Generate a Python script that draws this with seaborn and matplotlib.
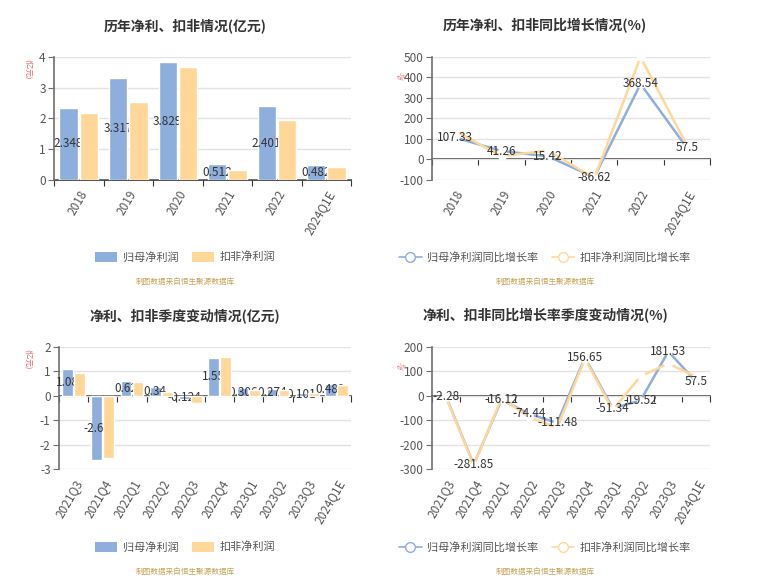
import pandas as pd
import numpy as np
import matplotlib.pyplot as plt
import seaborn as sns
from matplotlib.lines import Line2D
from matplotlib.patches import Patch

# Data
# ==============================================================================
years      = ['2018', '2019', '2020', '2021', '2022', '2024Q1E']
np_annual  = [2.348, 3.317, 3.829, 0.512, 2.401, 0.482]
kf_annual  = [2.17, 2.54, 3.69, 0.33, 1.95, 0.43]
np_yoy     = [107.33, 41.26, 15.42, -86.62, 368.54, 57.5]
kf_yoy     = [139, 16, 44, -92, 500, 69]

quarters   = ['2021Q3', '2021Q4', '2022Q1', '2022Q2', '2022Q3',
              '2022Q4', '2023Q1', '2023Q2', '2023Q3', '2024Q1E']
np_q       = [1.08, -2.65, 0.62, 0.34, -0.124, 1.55, 0.306, 0.274, 0.101, 0.482]
kf_q       = [0.94, -2.56, 0.57, 0.15, -0.29, 1.59, 0.23, 0.22, 0.12, 0.43]
np_q_yoy   = [-2.28, -281.85, -16.12, -74.44, -111.48, 156.65, -51.34, -19.52, 181.53, 57.5]
kf_q_yoy   = [-5, -285, -10, -88, -131, 152, -58, 80, 132, 78]

bar_names  = ['归母净利润', '扣非净利润']
line_names = ['归母净利润同比增长率', '扣非净利润同比增长率']

BLUE   = '#8eaedc'
ORANGE = '#ffd899'
GRID   = '#e3e3e3'
AXIS   = '#6e6e6e'
TXT    = '#333333'
SRC    = '#c9a25a'

sns.set_style('white')
plt.rcParams['font.family'] = ['Noto Sans CJK SC', 'DejaVu Sans']
plt.rcParams['axes.unicode_minus'] = False

fig = plt.figure(figsize=(7.63, 5.88), dpi=100)


def style_axes(ax, cats, ylim, step, zero_frac):
    n = len(cats)
    ax.set_xlim(-0.5, n - 0.5)
    ax.set_ylim(*ylim)
    ax.set_yticks(np.arange(ylim[0], ylim[1] + step / 2, step))
    ax.yaxis.grid(True, color=GRID, linewidth=1)
    ax.set_axisbelow(True)
    for s in ['top', 'right', 'bottom']:
        ax.spines[s].set_visible(False)
    ax.spines['left'].set_color(AXIS)
    ax.spines['left'].set_linewidth(1.2)
    ax.tick_params(axis='y', length=4, color=AXIS, labelcolor='#555555',
                   labelsize=8.5, pad=2, left=True)
    ax.set_xticks(range(n))
    ax.set_xticklabels(cats, rotation=60, ha='right', rotation_mode='anchor')
    ax.tick_params(axis='x', length=0, labelcolor='#555555', labelsize=8.5, pad=6)
    ax.set_xlabel('')
    ax.set_ylabel('')
    # zero line with ticks between categories
    sec = ax.secondary_xaxis(zero_frac)
    sec.set_alignment('bottom')
    sec.set_xticks(np.arange(-0.5, n, 1.0))
    sec.tick_params(length=4, color=TXT, labelbottom=False, labeltop=False)
    sec.spines['bottom'].set_color(TXT)
    sec.spines['bottom'].set_linewidth(1.2)


def bar_panel(rect, cats, v1, v2, ylim, step, labels):
    ax = fig.add_axes(rect)
    df = pd.DataFrame({'period': cats * 2,
                       'value': v1 + v2,
                       'series': [bar_names[0]] * len(cats) + [bar_names[1]] * len(cats)})
    sns.barplot(data=df, x='period', y='value', hue='series',
                palette=[BLUE, ORANGE], saturation=1, width=0.82, gap=0.1,
                legend=False, ax=ax, zorder=2)
    for p in ax.containers[1]:
        p.set_zorder(4)
    txt = ax.bar_label(ax.containers[0], labels=labels, label_type='center',
                       fontsize=8.5, color=TXT)
    for t in txt:
        t.set_zorder(3)
    style_axes(ax, cats, ylim, step, (0 - ylim[0]) / (ylim[1] - ylim[0]))
    return ax


def line_panel(rect, cats, v1, v2, ylim, step, labels):
    ax = fig.add_axes(rect)
    df = pd.DataFrame({'period': cats * 2,
                       'value': v1 + v2,
                       'series': [line_names[0]] * len(cats) + [line_names[1]] * len(cats)})
    sns.lineplot(data=df, x='period', y='value', hue='series',
                 palette=[BLUE, ORANGE], marker='o', markersize=5,
                 markerfacecolor='white', markeredgewidth=1.2,
                 linewidth=1.8, sort=False, legend=False, ax=ax, zorder=3)
    for i, lab in enumerate(labels):
        ax.text(i, v1[i], lab, ha='center', va='center', fontsize=8.5,
                color=TXT, zorder=5)
    style_axes(ax, cats, ylim, step, (0 - ylim[0]) / (ylim[1] - ylim[0]))
    return ax


ax1 = bar_panel([0.0708, 0.6939, 0.3893, 0.2092], years, np_annual, kf_annual,
                (0, 4), 1, [f'{v:g}' for v in np_annual])
ax2 = line_panel([0.5662, 0.6939, 0.3644, 0.2092], years, np_yoy, kf_yoy,
                 (-100, 500), 100, [f'{v:g}' for v in np_yoy])
ax3 = bar_panel([0.0773, 0.2024, 0.3827, 0.2075], quarters, np_q, kf_q,
                (-3, 2), 1, [f'{v:g}' for v in np_q])
ax4 = line_panel([0.5662, 0.2024, 0.3644, 0.2075], quarters, np_q_yoy, kf_q_yoy,
                 (-300, 200), 100, [f'{v:g}' for v in np_q_yoy])

# Titles, units, legends, sources
# ==============================================================================
titles = [('历年净利、扣非情况(亿元)', 185, 26),
          ('历年净利、扣非同比增长情况(%)', 545, 26),
          ('净利、扣非季度变动情况(亿元)', 185, 316),
          ('净利、扣非同比增长率季度变动情况(%)', 545, 316)]
for t, x, y in titles:
    fig.text(x / 763, 1 - y / 588, t, ha='center', va='center',
             fontsize=10, fontweight='bold', color=TXT)

for y in [69, 359]:
    fig.text(28 / 763, 1 - y / 588, '(亿元)', rotation=-90, ha='center',
             va='center', fontsize=5.5, color='#e8606a')
for y in [77, 367]:
    fig.text(403 / 763, 1 - y / 588, '%', rotation=45, ha='center',
             va='center', fontsize=6, color='#e8606a')

bar_handles = [Patch(facecolor=BLUE, edgecolor='none', label=bar_names[0]),
               Patch(facecolor=ORANGE, edgecolor='none', label=bar_names[1])]
line_handles = [Line2D([], [], color=c, marker='o', markersize=7,
                       markerfacecolor='white', linewidth=1.2, label=l)
                for c, l in zip([BLUE, ORANGE], line_names)]

for y in [257, 547]:
    fig.legend(handles=bar_handles, loc='center', ncol=2,
               bbox_to_anchor=(185 / 763, 1 - y / 588), frameon=False,
               fontsize=8, labelcolor='#555555', handlelength=2.0,
               handleheight=1.0, columnspacing=1.2, handletextpad=0.5)
    fig.legend(handles=line_handles, loc='center', ncol=2,
               bbox_to_anchor=(545 / 763, 1 - y / 588), frameon=False,
               fontsize=8, labelcolor='#555555', handlelength=2.0,
               columnspacing=1.2, handletextpad=0.5)

for x in [185, 545]:
    for y in [282, 572]:
        fig.text(x / 763, 1 - y / 588, '制图数据来自恒生聚源数据库',
                 ha='center', va='center', fontsize=5.5, color=SRC)

plt.savefig('out.png', dpi=100)
